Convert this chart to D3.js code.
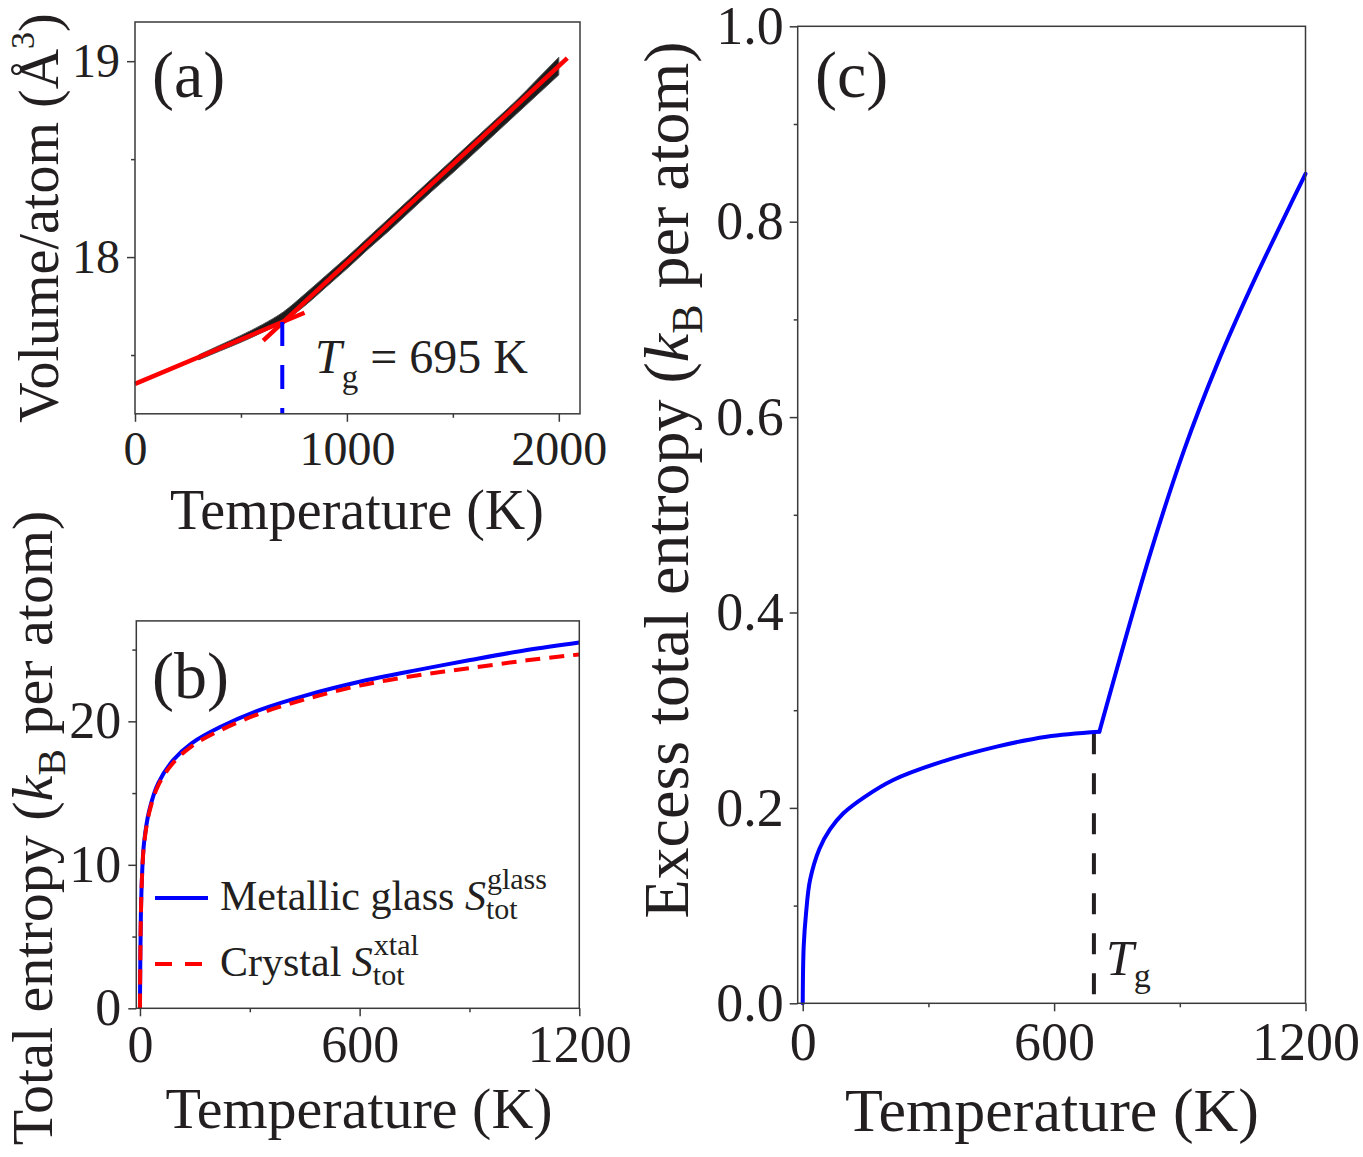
<!DOCTYPE html>
<html>
<head>
<meta charset="utf-8">
<script src="https://cdn.jsdelivr.net/npm/d3@7"></script>
<style>
  body { margin: 0; background: #fff; }
  svg { display: block; font-family: "Liberation Serif", "Times New Roman", serif; }
</style>
</head>
<body>
<svg id="fig" width="1363" height="1157"></svg>
<script>
// ---------- (a) volume per atom vs temperature ----------
const volT  = [300, 400, 500, 600, 700, 800, 900, 1000, 1100, 1200, 1300, 1400, 1500, 1600, 1700, 1800, 1900, 2000];
const volLo = [17.475, 17.52, 17.565, 17.615, 17.67, 17.75, 17.845, 17.94, 18.04, 18.135, 18.235, 18.335, 18.43, 18.53, 18.63, 18.73, 18.83, 18.93];
const volHi = [17.50, 17.55, 17.60, 17.655, 17.72, 17.81, 17.905, 18.0, 18.10, 18.20, 18.30, 18.40, 18.50, 18.60, 18.70, 18.80, 18.91, 19.02];
const glassFitT  = [0, 800];
const glassFitV  = [17.353, 17.716];
const liquidFitT = [605, 2040];
const liquidFitV = [17.574, 19.016];
const Tg = 695;
const TgVolume = 17.668;

// ---------- (b) total entropy ----------
const entT     = [0, 1, 2.5, 5.5, 11, 25.5, 50, 91, 141, 219, 328, 456, 600, 756, 902, 1057, 1200];
const entGlass = [0, 3.5, 6.5, 9.17, 11.5, 13.8, 15.7, 17.3, 18.47, 19.6, 20.8, 21.83, 22.76, 23.57, 24.27, 24.97, 25.5];
const entXtal  = [0, 3.47, 6.44, 9.08, 11.38, 13.66, 15.54, 17.11, 18.26, 19.37, 20.55, 21.57, 22.49, 23.2, 23.71, 24.25, 24.66];

// ---------- (c) excess entropy (glassy branch, then supercooled-liquid branch) ----------
const excGlassT = [0, 2.3, 7.9, 17.4, 39.7, 65, 97, 149, 216, 320, 463, 582, 708];
const excGlassS = [0, 0.058, 0.092, 0.126, 0.158, 0.178, 0.1945, 0.2116, 0.2286, 0.2456, 0.2627, 0.2729, 0.278];
const excLiqT = [708, 830, 910, 990, 1070, 1150, 1200];
const excLiqS = [0.278, 0.461, 0.566, 0.655, 0.733, 0.805, 0.849];
const TgExcess = 0.2765;

const ink = '#231f20';
const axisInk = '#3a3a3a';
const svg = d3.select('#fig');

function drawFrame(g, x, y, opt) {
  const [xl, xr] = x.range();
  const [yb, yt] = y.range();

  const xa = g.append('g').attr('transform', `translate(0,${yb})`)
    .call(d3.axisBottom(x).tickValues(opt.xMajor).tickFormat(opt.xFormat)
      .tickSize(8).tickSizeOuter(0).tickPadding(opt.xPad));
  const xm = g.append('g').attr('transform', `translate(0,${yb})`)
    .call(d3.axisBottom(x).tickValues(opt.xMinor).tickFormat('').tickSize(4).tickSizeOuter(0));
  const ya = g.append('g').attr('transform', `translate(${xl},0)`)
    .call(d3.axisLeft(y).tickValues(opt.yMajor).tickFormat(opt.yFormat)
      .tickSize(8).tickSizeOuter(0).tickPadding(opt.yPad));
  const ym = g.append('g').attr('transform', `translate(${xl},0)`)
    .call(d3.axisLeft(y).tickValues(opt.yMinor).tickFormat('').tickSize(4).tickSizeOuter(0));

  [xa, xm, ya, ym].forEach(a => {
    a.select('.domain').remove();
    a.attr('font-family', null).attr('font-size', opt.fontSize);
    a.selectAll('line').attr('stroke', axisInk).attr('stroke-width', 1.5);
    a.selectAll('text').attr('fill', ink);
  });

  g.append('rect')
    .attr('x', xl).attr('y', yt)
    .attr('width', xr - xl).attr('height', yb - yt)
    .attr('fill', 'none').attr('stroke', axisInk).attr('stroke-width', 1.5);
}

function yTitle(g, cx, cy, size, parts) {
  const t = g.append('text')
    .attr('transform', `translate(${cx},${cy}) rotate(-90)`)
    .attr('text-anchor', 'middle').attr('font-size', size).attr('fill', ink);
  parts.forEach(p => {
    const s = t.append('tspan').text(p.text);
    if (p.italic) s.attr('font-style', 'italic');
    if (p.size) s.attr('font-size', p.size);
    if (p.dy) s.attr('dy', p.dy);
  });
  return t;
}

function xTitle(g, cx, by, size, label) {
  g.append('text').attr('x', cx).attr('y', by)
    .attr('text-anchor', 'middle').attr('font-size', size).attr('fill', ink)
    .text(label);
}

const smooth = d3.curveCatmullRom.alpha(0.5);

// ================= panel (a) =================
{
  const g = svg.append('g');
  const x = d3.scaleLinear().domain([0, 2100]).range([135, 580]);
  const y = d3.scaleLinear().domain([17.2, 19.2]).range([413.8, 22]);

  const band = d3.zip(volT, volLo, volHi);
  g.append('path').datum(band)
    .attr('d', d3.area().curve(d3.curveMonotoneX)
      .x(d => x(d[0])).y0(d => y(d[1])).y1(d => y(d[2])))
    .attr('fill', '#1c1c1c').attr('stroke', '#555').attr('stroke-width', 1);

  const line = d3.line().x(d => x(d[0])).y(d => y(d[1]));
  [[glassFitT, glassFitV], [liquidFitT, liquidFitV]].forEach(([ts, vs]) => {
    g.append('path').datum(d3.zip(ts, vs))
      .attr('d', line).attr('fill', 'none')
      .attr('stroke', '#ff0000').attr('stroke-width', 4.5);
  });

  g.append('path').datum([[Tg, TgVolume], [Tg, 17.2]])
    .attr('d', line).attr('fill', 'none')
    .attr('stroke', '#0000ff').attr('stroke-width', 4)
    .attr('stroke-dasharray', '24,19');

  drawFrame(g, x, y, {
    xMajor: [0, 1000, 2000], xMinor: [500, 1500],
    yMajor: [18, 19], yMinor: [17.5, 18.5],
    xFormat: d3.format('d'), yFormat: d3.format('d'),
    xPad: 9, yPad: 7, fontSize: 48
  });

  g.append('text').attr('x', 152).attr('y', 97)
    .attr('font-size', 66).attr('fill', ink).text('(a)');

  const tg = g.append('text').attr('x', 315).attr('y', 373)
    .attr('font-size', 48).attr('fill', ink);
  tg.append('tspan').attr('font-style', 'italic').text('T');
  tg.append('tspan').attr('font-size', 33).attr('dy', 15).text('g');
  tg.append('tspan').attr('dy', -15).text(' = 695 K');

  yTitle(g, 58, 218, 56, [
    { text: 'Volume/atom (Å' },
    { text: '3', size: 34, dy: -24 },
    { text: ')', dy: 24 }
  ]);
  xTitle(g, 357, 529, 56, 'Temperature (K)');
}

// ================= panel (b) =================
{
  const g = svg.append('g');
  const x = d3.scaleLinear().domain([-10, 1200]).range([136.3, 579.3]);
  const y = d3.scaleLinear().domain([0, 27]).range([1008.3, 620.9]);
  const line = d3.line().curve(smooth).x(d => x(d[0])).y(d => y(d[1]));

  g.append('path').datum(d3.zip(entT, entGlass))
    .attr('d', line).attr('fill', 'none')
    .attr('stroke', '#0000ff').attr('stroke-width', 4);
  g.append('path').datum(d3.zip(entT, entXtal))
    .attr('d', line).attr('fill', 'none')
    .attr('stroke', '#ff0000').attr('stroke-width', 4)
    .attr('stroke-dasharray', '15,9');

  drawFrame(g, x, y, {
    xMajor: [0, 600, 1200], xMinor: [300, 900],
    yMajor: [0, 10, 20], yMinor: [5, 15, 25],
    xFormat: d3.format('d'), yFormat: d3.format('d'),
    xPad: 9, yPad: 7, fontSize: 52
  });

  g.append('text').attr('x', 152).attr('y', 698)
    .attr('font-size', 66).attr('fill', ink).text('(b)');

  // legend
  const rows = [
    { y: 898, color: '#0000ff', dash: null, label: 'Metallic glass ', sup: 'glass', base: 910 },
    { y: 964, color: '#ff0000', dash: '17,13', label: 'Crystal ', sup: 'xtal', base: 976 }
  ];
  rows.forEach(r => {
    const l = g.append('line').attr('x1', 155).attr('x2', 208).attr('y1', r.y).attr('y2', r.y)
      .attr('stroke', r.color).attr('stroke-width', 4);
    if (r.dash) l.attr('stroke-dasharray', r.dash);
    const t = g.append('text').attr('x', 220).attr('y', r.base)
      .attr('font-size', 42).attr('fill', ink);
    t.append('tspan').text(r.label);
    t.append('tspan').attr('font-style', 'italic').text('S');
    const end = 220 + t.node().getComputedTextLength();
    g.append('text').attr('x', end + 1).attr('y', r.base - 21)
      .attr('font-size', 30).attr('fill', ink).text(r.sup);
    g.append('text').attr('x', end).attr('y', r.base + 9)
      .attr('font-size', 30).attr('fill', ink).text('tot');
  });

  yTitle(g, 52, 828, 58, [
    { text: 'Total entropy (' },
    { text: 'k', italic: true },
    { text: 'B', size: 40, dy: 13 },
    { text: ' per atom)', dy: -13 }
  ]);
  xTitle(g, 359, 1128, 58, 'Temperature (K)');
}

// ================= panel (c) =================
{
  const g = svg.append('g');
  const x = d3.scaleLinear().domain([-12, 1200]).range([797.7, 1305.5]);
  const y = d3.scaleLinear().domain([0, 1]).range([1003.3, 26.3]);
  const line = d3.line().curve(smooth).x(d => x(d[0])).y(d => y(d[1]));

  g.append('path').datum([[Tg, TgExcess], [Tg, 0]])
    .attr('d', line).attr('fill', 'none')
    .attr('stroke', ink).attr('stroke-width', 4)
    .attr('stroke-dasharray', '21,19');

  [[excGlassT, excGlassS], [excLiqT, excLiqS]].forEach(([ts, ss]) => {
    g.append('path').datum(d3.zip(ts, ss))
      .attr('d', line).attr('fill', 'none')
      .attr('stroke', '#0000ff').attr('stroke-width', 4)
      .attr('stroke-linecap', 'round');
  });

  drawFrame(g, x, y, {
    xMajor: [0, 600, 1200], xMinor: [300, 900],
    yMajor: [0, 0.2, 0.4, 0.6, 0.8, 1.0], yMinor: [0.1, 0.3, 0.5, 0.7, 0.9],
    xFormat: d3.format('d'), yFormat: d3.format('.1f'),
    xPad: 10, yPad: 6, fontSize: 54
  });

  g.append('text').attr('x', 815).attr('y', 97)
    .attr('font-size', 66).attr('fill', ink).text('(c)');

  const tg = g.append('text').attr('x', 1106).attr('y', 975)
    .attr('font-size', 50).attr('fill', ink);
  tg.append('tspan').attr('font-style', 'italic').text('T');
  tg.append('tspan').attr('font-size', 34).attr('dy', 12).text('g');

  yTitle(g, 688, 480, 64, [
    { text: 'Excess total entropy (' },
    { text: 'k', italic: true },
    { text: 'B', size: 44, dy: 14 },
    { text: ' per atom)', dy: -14 }
  ]);
  xTitle(g, 1052, 1131, 62, 'Temperature (K)');
}
</script>
</body>
</html>
